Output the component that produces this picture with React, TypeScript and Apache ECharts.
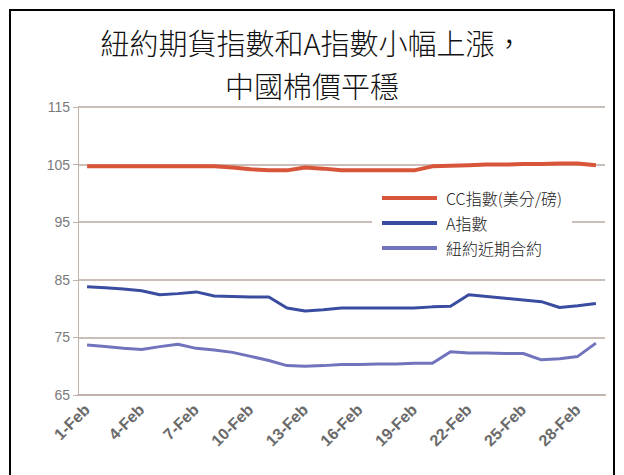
import React, { useEffect, useRef } from "react";
import * as echarts from "echarts";

const categories = [
  "1-Feb", "2-Feb", "3-Feb", "4-Feb", "5-Feb", "6-Feb", "7-Feb", "8-Feb", "9-Feb", "10-Feb",
  "11-Feb", "12-Feb", "13-Feb", "14-Feb", "15-Feb", "16-Feb", "17-Feb", "18-Feb", "19-Feb", "20-Feb",
  "21-Feb", "22-Feb", "23-Feb", "24-Feb", "25-Feb", "26-Feb", "27-Feb", "28-Feb", "29-Feb",
];

const ccIndex = [
  104.7, 104.7, 104.7, 104.7, 104.7, 104.7, 104.7, 104.7, 104.5, 104.2,
  104.0, 104.0, 104.5, 104.3, 104.0, 104.0, 104.0, 104.0, 104.0, 104.7,
  104.8, 104.9, 105.0, 105.0, 105.1, 105.1, 105.2, 105.2, 104.9,
];

const aIndex = [
  83.8, 83.6, 83.4, 83.1, 82.4, 82.6, 82.9, 82.2, 82.1, 82.0,
  82.0, 80.1, 79.6, 79.8, 80.1, 80.1, 80.1, 80.1, 80.1, 80.3,
  80.4, 82.4, 82.1, 81.8, 81.5, 81.2, 80.2, 80.5, 80.9,
];

const nyNearby = [
  73.7, 73.4, 73.1, 72.9, 73.4, 73.8, 73.1, 72.8, 72.4, 71.7,
  71.0, 70.1, 70.0, 70.1, 70.3, 70.3, 70.4, 70.4, 70.5, 70.5,
  72.5, 72.3, 72.3, 72.2, 72.2, 71.1, 71.3, 71.7, 74.0,
];

const seriesNames = ["CC指數(美分/磅)", "A指數", "紐約近期合約"];
const seriesColors = ["#d9553a", "#3a4ca0", "#7174bd"];
const titleLines = ["紐約期貨指數和A指數小幅上漲，", "中國棉價平穩"];

export default function App() {
  const ref = useRef<HTMLDivElement>(null);
  useEffect(() => {
    if (!ref.current) return;
    const chart = echarts.init(ref.current, null, { renderer: "svg" });
    const cjk = '"Noto Sans CJK TC", "Noto Sans CJK SC", sans-serif';
    const dataSets = [ccIndex, aIndex, nyNearby];
    const titleStyle = {
      fontFamily: cjk,
      fontSize: 29,
      fontWeight: 300,
      color: "#111",
      lineHeight: 32,
    };
    chart.setOption({
      animation: false,
      backgroundColor: "#ffffff",
      title: [
        { text: titleLines[0], left: "center", top: 26, padding: 0, textStyle: titleStyle },
        { text: titleLines[1], left: "center", top: 69, padding: 0, textStyle: titleStyle },
      ],
      graphic: [
        {
          type: "rect",
          shape: { x: 10, y: 10, width: 604, height: 475 },
          style: { fill: "none", stroke: "#000", lineWidth: 2 },
          silent: true,
          z: 100,
        },
      ],
      legend: {
        orient: "vertical",
        left: 372,
        top: 185,
        backgroundColor: "#ffffff",
        padding: [3, 10, 3, 10],
        itemWidth: 55,
        itemHeight: 4,
        itemGap: 5,
        icon: "rect",
        textStyle: {
          fontFamily: cjk,
          fontSize: 16,
          fontWeight: 300,
          color: "#222",
          lineHeight: 20,
          padding: [0, 0, 0, 4],
        },
        data: seriesNames,
      },
      grid: { left: 78, right: 19, top: 107, bottom: 80 },
      xAxis: {
        type: "category",
        data: categories,
        boundaryGap: true,
        axisLine: { lineStyle: { color: "#bfb3ab", width: 2 } },
        axisTick: { interval: 2, length: 5, lineStyle: { color: "#bfb3ab", width: 1 } },
        axisLabel: {
          interval: 2,
          rotate: 45,
          fontFamily: "Liberation Sans, Arial, sans-serif",
          fontSize: 16,
          fontWeight: "bold",
          color: "#6a6a6a",
          margin: 12,
        },
      },
      yAxis: {
        type: "value",
        min: 65,
        max: 115,
        interval: 10,
        axisLine: { show: true, lineStyle: { color: "#bfb3ab", width: 1 } },
        axisTick: { show: true, length: 5, lineStyle: { color: "#bfb3ab" } },
        axisLabel: {
          fontFamily: "Liberation Sans, Arial, sans-serif",
          fontSize: 14,
          color: "#7a7a7a",
          margin: 8,
        },
        splitLine: { lineStyle: { color: "#c9bfb8", width: 2 } },
      },
      series: seriesNames.map((name, i) => ({
        name,
        type: "line",
        data: dataSets[i],
        symbol: "none",
        smooth: false,
        color: seriesColors[i],
        lineStyle: { width: i === 0 ? 4 : 3, color: seriesColors[i], join: "round" },
      })),
    });
    return () => chart.dispose();
  }, []);
  return (
    <div
      ref={ref}
      style={{ position: "fixed", left: 0, top: 0, width: 624, height: 475 }}
    />
  );
}
